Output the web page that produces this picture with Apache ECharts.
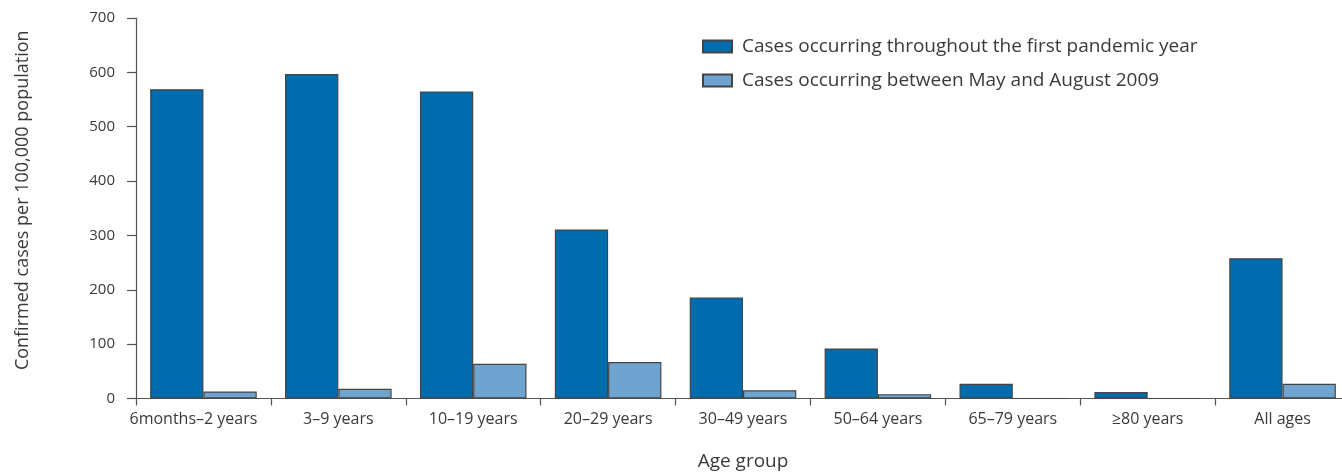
<!DOCTYPE html>
<html>
<head>
<meta charset="utf-8">
<script src="https://cdn.jsdelivr.net/npm/echarts@6/dist/echarts.min.js"></script>
<style>
html,body{margin:0;padding:0;background:#fff;}
#chart{width:1342px;height:472px;}
</style>
</head>
<body>
<div id="chart"></div>
<script>
const categories = ['6months\u20132 years','3\u20139 years','10\u201319 years','20\u201329 years','30\u201349 years','50\u201364 years','65\u201379 years','\u226580 years','All ages'];
const seriesNames = ['Cases occurring throughout the first pandemic year','Cases occurring between May and August 2009'];
const firstYear = [569, 597, 565, 311, 186, 92, 27, 12, 258];
const mayAug = [13, 18, 64, 67, 15, 8, 0, 0, 27];
const yTicks = [0, 100, 200, 300, 400, 500, 600, 700];

const FONT = '"Open Sans", "Noto Sans", sans-serif';
const TXT = '#3a3a3a';
const catData = categories.map((c, i) => i === 0 ? {value: c, textStyle: {padding: [0, 20, 0, 0]}} : c);
const chart = echarts.init(document.getElementById('chart'));
chart.setOption({
  animation: false,
  textStyle: {fontFamily: FONT, color: TXT},
  legend: {
    orient: 'vertical',
    left: 697,
    top: 32,
    itemWidth: 29,
    itemHeight: 12,
    itemGap: 15,
    icon: 'rect',
    textStyle: {fontFamily: FONT, fontSize: 19, color: TXT, padding: [0,0,0,5]},
    data: seriesNames
  },
  grid: {left: 136, top: 18, right: -8, bottom: 73.5, containLabel: false, outerBoundsMode: 'none'},
  xAxis: {
    type: 'category',
    data: catData,
    name: 'Age group',
    nameLocation: 'middle',
    nameGap: 54,
    nameTextStyle: {fontFamily: FONT, fontSize: 19, color: TXT},
    axisLine: {lineStyle: {color: '#555', width: 1.2}},
    axisTick: {show: true, length: 7, lineStyle: {color: '#555', width: 1.2}},
    axisLabel: {fontFamily: FONT, fontSize: 16, color: TXT, margin: 13, interval: 0}
  },
  yAxis: {
    type: 'value',
    min: yTicks[0],
    max: yTicks[yTicks.length - 1],
    interval: yTicks[1] - yTicks[0],
    name: 'Confirmed cases per 100,000 population',
    nameLocation: 'middle',
    nameGap: 104,
    nameTextStyle: {fontFamily: FONT, fontSize: 18, color: TXT, padding: [0, 0, 0, 16]},
    axisLine: {show: true, lineStyle: {color: '#555', width: 1.2}},
    axisTick: {show: true, length: 9, lineStyle: {color: '#555', width: 1.2}},
    splitLine: {show: false},
    axisLabel: {fontFamily: FONT, fontSize: 15, color: TXT, margin: 21}
  },
  series: [
    {
      name: seriesNames[0],
      type: 'bar',
      data: firstYear,
      barGap: '0%',
      barCategoryGap: '21%',
      itemStyle: {color: '#006cae', borderColor: '#444', borderWidth: 1.2}
    },
    {
      name: seriesNames[1],
      type: 'bar',
      data: mayAug,
      itemStyle: {color: '#70a4d0', borderColor: '#444', borderWidth: 1.2}
    }
  ]
});
</script>
</body>
</html>
